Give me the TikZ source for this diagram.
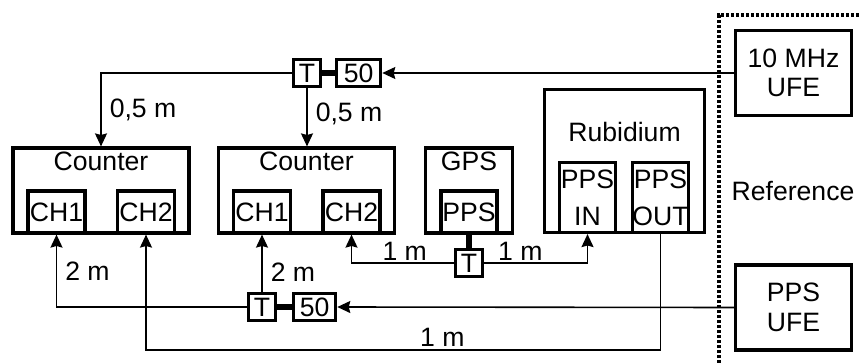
\documentclass[tikz,border=0pt]{standalone}
\usepackage{fontspec}
\setmainfont{Liberation Sans}
\usetikzlibrary{arrows.meta,positioning}

\begin{document}
\begin{tikzpicture}[x=0.5pt,y=-0.5pt,
  font=\fontsize{13.3}{14.7}\selectfont,
  box/.style={draw,line width=1.6pt,inner sep=0pt,align=center},
  unit/.style={box,minimum width=#1,minimum height=42.5pt},
  port/.style={box,minimum width=28.5pt,minimum height=21pt,anchor=south},
  tallport/.style={port,minimum height=35pt,font=\fontsize{13.3}{18.5}\selectfont},
  head/.style={anchor=base},
  ufe/.style={box,minimum width=58pt,minimum height=42.5pt},
  tee/.style={box,minimum width=13.5pt,minimum height=13.5pt},
  load/.style={box,minimum width=22pt,minimum height=13.5pt},
  cable/.style={line width=0.8pt},
  feed/.style={cable,-{Stealth[length=6.5pt,width=6pt,inset=0.8pt]}},
  link/.style={line width=3pt},
  frame/.style={line width=1.6pt,dash pattern=on 1.6pt off 0.9pt},
  len/.style={inner sep=4pt},
  tight/.style={inner sep=1.2pt}
]
\useasboundingbox (0,0) rectangle (861,363);
% instruments
\node[unit=88pt] (c1) at (101,190.5) {};
\node[head] (c1t) at ([yshift=-12pt]c1.north) {Counter};
\node[port] (c1a) at ([xshift=-22.25pt]c1.south) {CH1};
\node[port] (c1b) at ([xshift=22.5pt]c1.south) {CH2};
\node[unit=88pt] (c2) at (306.5,190.5) {};
\node[head] (c2t) at ([yshift=-12pt]c2.north) {Counter};
\node[port] (c2a) at ([xshift=-22.25pt]c2.south) {CH1};
\node[port] (c2b) at ([xshift=22.5pt]c2.south) {CH2};
\node[unit=43.5pt] (gps) at (469,190.5) {};
\node[head] (gpst) at ([yshift=-12pt]gps.north) {GPS};
\node[port,minimum width=28pt] (gp) at (gps.south) {PPS};
\node[unit=80pt,minimum height=71.5pt] (rb) at (624.5,161) {};
\node[head] (rbt) at ([yshift=-27pt]rb.north) {Rubidium};
\node[tallport,minimum width=28pt] (ri) at ([xshift=-18.5pt]rb.south) {PPS\\IN};
\node[tallport,minimum width=28pt] (ro) at ([xshift=18pt]rb.south) {PPS\\OUT};
% reference side
\node[ufe] (u10) at (793.5,73) {10 MHz\\UFE};
\node[ufe] (ups) at (793.5,307.5) {PPS\\UFE};
\node (ref) at (793,191) {Reference};
\draw[frame] (719,363) -- (719,15) -- (861,15);
% tees and loads
\node[tee] (tt) at (307,73) {T};
\node[load,right=6.5pt of tt] (tl) {50};
\node[tee] (bt) at (262,307) {T};
\node[load,right=7.5pt of bt,minimum width=21pt] (bl) {50};
\node[tee,below=6.75pt of gp] (gt) {T};
\coordinate (floor) at (0,350);
% 10 MHz
\draw[feed] (u10.west) -- (tl.east);
\draw[link] (tt.east) -- (tl.west);
\draw[feed] (tt.west) -| node[len,pos=0.75,right] (la) {0,5 m} (c1.north);
\draw[feed] (tt.south) -- node[len,pos=0.45,right] (lb) {0,5 m} (tt.south |- c2.north);
% PPS
\draw[feed] (ups.west) -- (bl.east);
\draw[link] (bt.east) -- (bl.west);
\draw[feed] (bt.west) -| node[len,pos=0.75,right] (lc) {2 m} (c1a.south);
\draw[feed] (bt.north) -- node[len,pos=0.35,right] (ld) {2 m} (bt.north |- c2a.south);
\draw[link] (gp.south) -- (gt.north);
\draw[feed] (gt.west) -| node[tight,pos=0.24,above] (le) {1 m} (c2b.south);
\draw[feed] (gt.east) -| node[tight,pos=0.175,above] (lf) {1 m} (ri.south);
\draw[feed] (ro.south) -- (ro.south |- floor) -| node[tight,pos=0.212,above] (lg) {1 m} (c1b.south);
\end{tikzpicture}
\end{document}
